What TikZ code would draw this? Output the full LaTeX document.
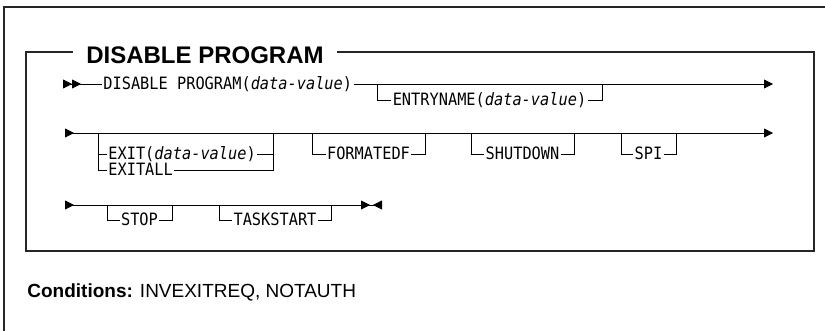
\documentclass[tikz,border=0pt]{standalone}
\usepackage{fontspec}
\setmainfont{Liberation Sans}
\newfontfamily\synfont[FakeStretch=0.9]{DejaVu Sans Mono}
\usetikzlibrary{arrows.meta, positioning, calc}
\tikzset{
    railroad/.style={x=1pt, y=-1pt, line width=0.8pt, font=\synfont\fontsize{17}{19}\selectfont},
    kw/.style={inner xsep=1pt, inner ysep=0pt, text height=12pt, text depth=0pt},
    frame/.style={line width=1.4pt, draw=black!85},
    heading/.style={font=\rmfamily\bfseries\fontsize{24}{28}\selectfont, fill=white, inner xsep=13pt, inner ysep=2pt},
    conds/.style={font=\rmfamily\fontsize{19}{22}\selectfont, inner sep=0pt},
    % arrow tips of the syntax lines
    syn/.tip={Triangle[length=9pt, width=9pt]},
    synr/.tip={Triangle[length=9pt, width=9pt, reversed]},
    synsep/.tip={Triangle[length=9pt, width=9pt, sep=3pt]},
}
\begin{document}
\begin{tikzpicture}[railroad]
    \useasboundingbox (0,0) rectangle (825,331);

    % frames
    \draw[frame] (4,331) -- (4,7) -- (825,7);
    \draw[frame] (26,52) rectangle (814,251);
    \node[heading, anchor=base] (head) at (205,64) {DISABLE PROGRAM};

    % first row
    \coordinate (r1s) at (63,84);
    \node[kw, anchor=west] (dp) at (102,84) {DISABLE PROGRAM(\textit{data-value})};
    \coordinate (r1a) at (377,84);
    \coordinate (r1b) at (602,84);
    \coordinate (r1e) at (773,84);
    \node[kw] (entry) at ($(r1a)!0.5!(r1b)+(0,16)$) {ENTRYNAME(\textit{data-value})};
    \draw[{synr[]synr[]}-] (r1s) -- (dp);
    \draw[-{syn[]}] (dp) -- (r1e);
    \draw (r1a) |- (entry) -| (r1b);

    % second row
    \coordinate (r2s) at (65,133);
    \coordinate (r2e) at (773,133);
    \draw[{synr[]}-{syn[]}] (r2s) -- (r2e);
    \coordinate (ex1) at (98,133);
    \coordinate (ex2) at (273,133);
    \node[kw, anchor=west] (exit) at (107,154) {EXIT(\textit{data-value})};
    \node[kw, anchor=west] (exitall) at (107,170) {EXITALL};
    \draw (ex1) |- (exitall) -| (ex2);
    \draw (ex1 |- exit) -- (exit) -- (exit -| ex2);
    \foreach \lft/\rgt/\nm/\txt in {312/425/fmt/FORMATEDF, 471/574/shut/SHUTDOWN, 621/676/spi/SPI} {
        \coordinate (\nm1) at (\lft,133);
        \coordinate (\nm2) at (\rgt,133);
        \node[kw] (\nm) at ($(\nm1)!0.5!(\nm2)+(0,21)$) {\txt};
        \draw (\nm1) |- (\nm) -| (\nm2);
    }

    % third row
    \coordinate (r3s) at (65,205);
    \coordinate (r3e) at (382,205);
    \draw[{synr[]}-{synsep[]synr[]}] (r3s) -- (r3e);
    \foreach \lft/\rgt/\nm/\txt in {107/172/stop/STOP, 219/331/task/TASKSTART} {
        \coordinate (\nm1) at (\lft,205);
        \coordinate (\nm2) at (\rgt,205);
        \node[kw] (\nm) at ($(\nm1)!0.5!(\nm2)+(0,15)$) {\txt};
        \draw (\nm1) |- (\nm) -| (\nm2);
    }

    \node[conds, anchor=base west] (cond) at (27,298) {\textbf{Conditions:} INVEXITREQ, NOTAUTH};
\end{tikzpicture}
\end{document}
